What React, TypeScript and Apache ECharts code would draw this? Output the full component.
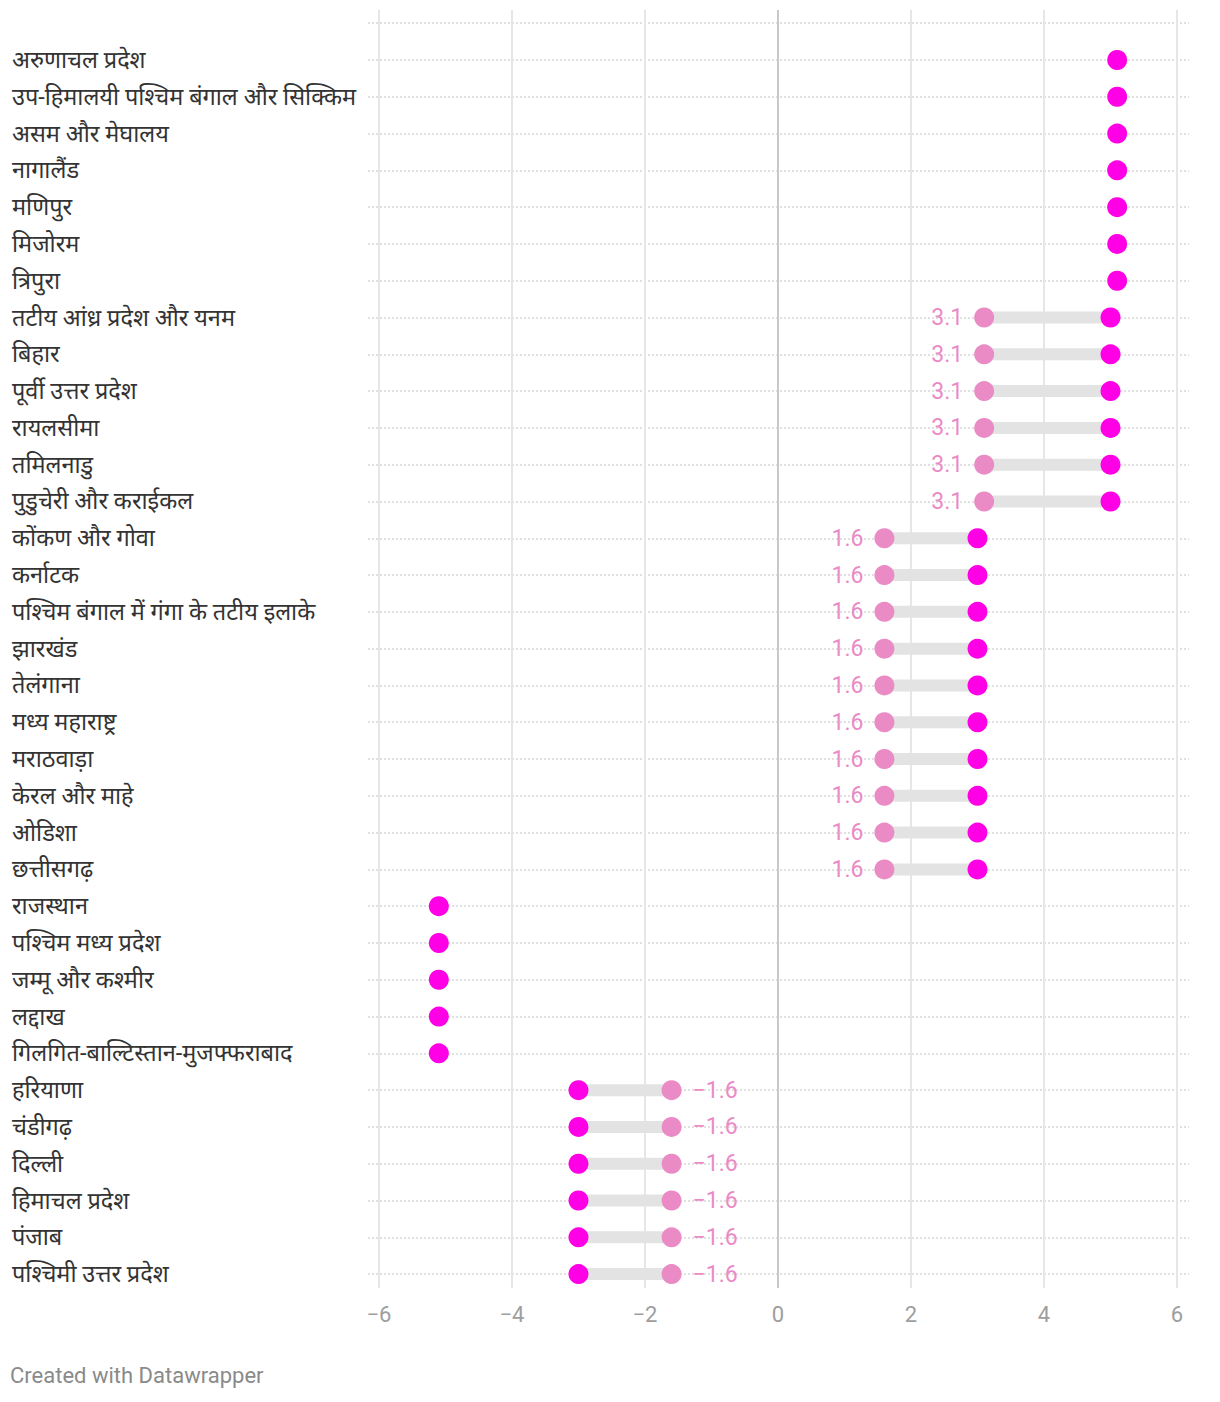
import React, { useEffect, useRef } from "react";
import * as echarts from "echarts";

const categories: string[] = [
  "",
  "अरुणाचल प्रदेश",
  "उप-हिमालयी पश्चिम बंगाल और सिक्किम",
  "असम और मेघालय",
  "नागालैंड",
  "मणिपुर",
  "मिजोरम",
  "त्रिपुरा",
  "तटीय आंध्र प्रदेश और यनम",
  "बिहार",
  "पूर्वी उत्तर प्रदेश",
  "रायलसीमा",
  "तमिलनाडु",
  "पुडुचेरी और कराईकल",
  "कोंकण और गोवा",
  "कर्नाटक",
  "पश्चिम बंगाल में गंगा के तटीय इलाके",
  "झारखंड",
  "तेलंगाना",
  "मध्य महाराष्ट्र",
  "मराठवाड़ा",
  "केरल और माहे",
  "ओडिशा",
  "छत्तीसगढ़",
  "राजस्थान",
  "पश्चिम मध्य प्रदेश",
  "जम्मू और कश्मीर",
  "लद्दाख",
  "गिलगित-बाल्टिस्तान-मुजफ्फराबाद",
  "हरियाणा",
  "चंडीगढ़",
  "दिल्ली",
  "हिमाचल प्रदेश",
  "पंजाब",
  "पश्चिमी उत्तर प्रदेश",
];

// light (labelled) dot values, null where the row shows a single dot
const startVals: (number | null)[] = [
  null,
  null, null, null, null, null, null, null,
  3.1, 3.1, 3.1, 3.1, 3.1, 3.1,
  1.6, 1.6, 1.6, 1.6, 1.6, 1.6, 1.6, 1.6, 1.6, 1.6,
  null, null, null, null, null,
  -1.6, -1.6, -1.6, -1.6, -1.6, -1.6,
];

// dark dot values
const endVals: (number | null)[] = [
  null,
  5.1, 5.1, 5.1, 5.1, 5.1, 5.1, 5.1,
  5.0, 5.0, 5.0, 5.0, 5.0, 5.0,
  3.0, 3.0, 3.0, 3.0, 3.0, 3.0, 3.0, 3.0, 3.0, 3.0,
  -5.1, -5.1, -5.1, -5.1, -5.1,
  -3.0, -3.0, -3.0, -3.0, -3.0, -3.0,
];

const xTicks = [-6, -4, -2, 0, 2, 4, 6];

const FONT = 'Roboto, "Noto Sans", sans-serif';
const DARK = "#ff00e6";
const LIGHT = "#ea8bc6";

const fmt = (v: number) => (v < 0 ? "\u2212" + Math.abs(v) : String(v));

export default function App() {
  const ref = useRef<HTMLDivElement>(null);

  useEffect(() => {
    if (!ref.current) return;
    const chart = echarts.init(ref.current, null, { renderer: "svg" });

    const rangeData: any[] = [];
    const lightData: any[] = [];
    const darkData: any[] = [];
    categories.forEach((_, i) => {
      const s = startVals[i];
      const e = endVals[i];
      if (s !== null && e !== null) rangeData.push([s, i, e]);
      if (s !== null) {
        lightData.push({
          value: [s, i],
          label: {
            show: true,
            position: s < 0 ? "right" : "left",
            distance: 11,
            formatter: fmt(s),
            color: LIGHT,
            fontSize: 23,
            fontFamily: FONT,
          },
        });
      }
      if (e !== null) darkData.push([e, i]);
    });

    const lineColors = xTicks.map((t) => (t === 0 ? "#c8c8c8" : "#e6e6e6"));

    chart.setOption({
      animation: false,
      grid: [
        { left: 360, width: 821, top: 15.2, height: 1250.9, containLabel: false },
        { left: 371, width: 798, top: 2, height: 1278, containLabel: false },
      ],
      xAxis: [
        {
          gridIndex: 0,
          type: "value",
          min: -6.165,
          max: 6.18,
          show: false,
          splitLine: { show: false },
        },
        {
          gridIndex: 1,
          type: "value",
          min: -6,
          max: 6,
          interval: 2,
          axisLine: { show: false },
          axisTick: { show: false },
          splitLine: { show: true, lineStyle: { color: lineColors, width: 2 } },
          axisLabel: {
            formatter: (v: number) => fmt(v),
            color: "#9e9e9e",
            fontSize: 22,
            fontFamily: FONT,
            margin: 15,
          },
        },
      ],
      yAxis: [
        {
          gridIndex: 0,
          type: "category",
          data: categories,
          inverse: true,
          boundaryGap: false,
          axisLine: { show: false },
          axisTick: { show: false },
          splitLine: {
            show: true,
            lineStyle: { color: "#e0e0e0", width: 2, type: [2, 2] },
          },
          axisLabel: {
            align: "left",
            margin: 356,
            color: "#333333",
            fontSize: 23.5,
            fontFamily: FONT,
            interval: 0,
          },
        },
        {
          gridIndex: 1,
          type: "value",
          show: false,
          splitLine: { show: false },
        },
      ],
      series: [
        {
          type: "custom",
          xAxisIndex: 0,
          yAxisIndex: 0,
          data: rangeData,
          z: 2,
          renderItem: (params: any, api: any) => {
            const a = api.coord([api.value(0), api.value(1)]);
            const b = api.coord([api.value(2), api.value(1)]);
            return {
              type: "line",
              shape: { x1: a[0], y1: a[1], x2: b[0], y2: b[1] },
              style: { stroke: "#e3e3e3", lineWidth: 12 },
            };
          },
        },
        {
          type: "scatter",
          xAxisIndex: 0,
          yAxisIndex: 0,
          data: lightData,
          symbolSize: 20,
          itemStyle: { color: LIGHT, opacity: 1 },
          z: 3,
        },
        {
          type: "scatter",
          xAxisIndex: 0,
          yAxisIndex: 0,
          data: darkData,
          symbolSize: 20,
          itemStyle: { color: DARK, opacity: 1 },
          z: 4,
        },
      ],
      graphic: [
        {
          type: "text",
          left: 2,
          top: 1356,
          style: {
            text: "Created with Datawrapper",
            fill: "#8a8a8a",
            fontSize: 22,
            fontFamily: FONT,
          },
        },
      ],
    });

    return () => chart.dispose();
  }, []);

  return <div ref={ref} style={{ width: 1204, height: 1394 }} />;
}
